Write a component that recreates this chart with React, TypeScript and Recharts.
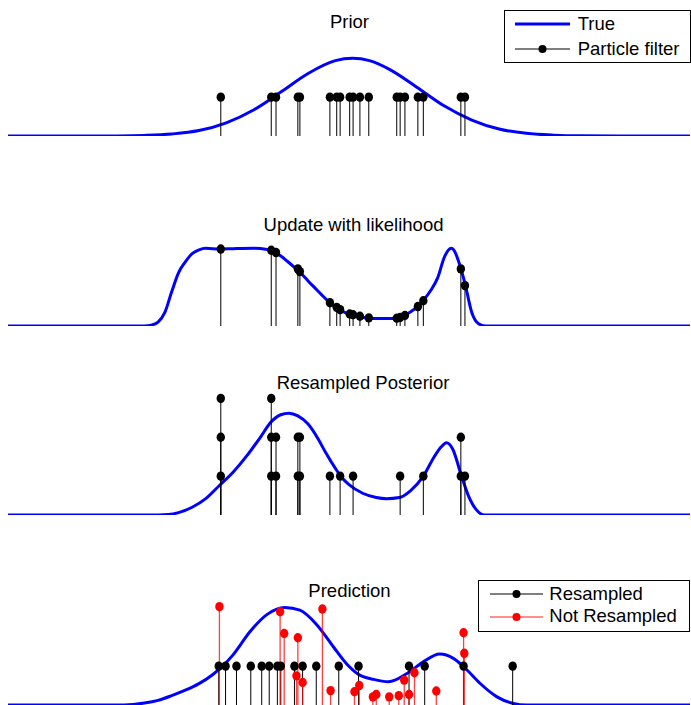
import React from 'react';
import { ComposedChart, Line, Scatter, ErrorBar, XAxis, YAxis, Legend } from 'recharts';

// x runs 0..100 across the plot, y is in "particle" units (one stacked dot = 1)

// Prior: true density
const priorCurveX = [0, 10, 16, 20, 24, 28, 32, 36, 40, 44, 48, 50.5, 53, 56, 60, 64, 68, 72, 76, 80, 84, 90, 100];
const priorCurveY = [0, 0, 0.003, 0.016, 0.052, 0.14, 0.34, 0.67, 1.13, 1.61, 1.94, 2.0, 1.94, 1.71, 1.25, 0.77, 0.41, 0.18, 0.068, 0.022, 0.005, 0, 0];

// particle positions drawn from the prior
const particleX = [31.2, 38.6, 39.3, 42.5, 42.8, 47.2, 48.2, 48.7, 50.1, 50.6, 51.6, 52.9, 57.0, 57.5, 58.2, 60.1, 60.9, 66.4, 67.0];

// Update with likelihood
const updateCurveX = [0, 10, 20, 21, 22, 23, 24, 25, 26, 27, 28, 29, 31, 33, 36, 38, 39, 40, 41, 42, 43, 44, 45, 46, 47, 48, 49, 50, 52, 54, 56, 57, 58, 59, 60, 61, 62, 63, 64, 65, 65.5, 66, 67, 68, 69, 70, 80, 100];
const updateCurveY = [0, 0, 0, 0.02, 0.1, 0.35, 0.88, 1.37, 1.65, 1.86, 1.96, 2.0, 1.98, 1.99, 2.0, 1.97, 1.91, 1.8, 1.66, 1.51, 1.35, 1.16, 0.98, 0.8, 0.63, 0.49, 0.38, 0.31, 0.22, 0.19, 0.19, 0.2, 0.26, 0.36, 0.49, 0.68, 0.92, 1.24, 1.78, 2.0, 1.92, 1.7, 1.1, 0.35, 0.06, 0, 0, 0];
const updateWeights = [1.98, 1.95, 1.89, 1.47, 1.4, 0.6, 0.48, 0.42, 0.31, 0.29, 0.25, 0.21, 0.2, 0.22, 0.27, 0.5, 0.65, 1.47, 1.04];

// Resampled posterior
const postCurveX = [0, 10, 22, 23.5, 25, 27, 29, 31, 33, 35, 37, 38.5, 40, 41.2, 42.5, 44, 45.5, 46.6, 48, 49, 50, 52, 54, 55.5, 57.4, 59, 60.9, 62.5, 63.5, 64.3, 65.2, 66.5, 67.5, 68.6, 69.9, 80, 100];
const postCurveY = [0, 0, 0, 0.01, 0.06, 0.2, 0.42, 0.76, 1.1, 1.52, 2.0, 2.38, 2.58, 2.62, 2.55, 2.34, 1.95, 1.6, 1.2, 0.95, 0.78, 0.56, 0.45, 0.42, 0.45, 0.62, 1.0, 1.5, 1.75, 1.86, 1.7, 1.0, 0.5, 0.15, 0, 0, 0];
const resampledX = [31.2, 38.6, 39.3, 42.5, 42.8, 47.2, 48.7, 50.6, 57.5, 60.9, 66.4, 67.0];
const resampledCount = [3, 3, 2, 2, 2, 1, 1, 1, 1, 1, 2, 1];

// Prediction
const predCurveX = [0, 10, 17, 20, 22, 24, 26, 28, 30, 31.1, 33, 35.5, 37.9, 40.6, 42.8, 45.3, 47.7, 49.7, 51.3, 53.6, 55.8, 58.5, 60.9, 63.3, 65.3, 67.3, 69.2, 71.7, 74.1, 76, 85, 100];
const predCurveY = [0, 0, 0, 0.05, 0.12, 0.24, 0.38, 0.55, 0.78, 0.94, 1.29, 1.89, 2.32, 2.51, 2.44, 2.06, 1.5, 1.05, 0.8, 0.66, 0.6, 0.81, 1.11, 1.31, 1.2, 0.9, 0.56, 0.21, 0.04, 0, 0, 0];
const predResampledX = [30.9, 31.9, 33.5, 35.6, 37.2, 38.3, 39.5, 40.0, 42.0, 43.2, 45.2, 48.5, 51.4, 58.8, 61.1, 66.8, 74.0];
const predOtherX = [31.0, 39.9, 40.5, 42.5, 46.1, 42.3, 43.2, 47.3, 50.8, 51.5, 53.5, 54.0, 55.9, 57.3, 58.1, 58.8, 59.6, 62.8, 66.8, 66.9];
const predOtherH = [2.53, 2.4, 1.84, 1.73, 2.47, 0.75, 0.58, 0.37, 0.34, 0.5, 0.21, 0.27, 0.21, 0.24, 0.64, 0.27, 0.83, 0.36, 1.86, 1.33];

const titles = [
  { text: 'Prior', cx: 349.5, top: 12.6 },
  { text: 'Update with likelihood', cx: 353.5, top: 216 },
  { text: 'Resampled Posterior', cx: 363, top: 373.6 },
  { text: 'Prediction', cx: 349.5, top: 581.6 },
];

const W = 691;
const H = 190;
const FONT = "'Liberation Sans', Arial, Helvetica, sans-serif";

const curve = (xs: number[], ys: number[]) => xs.map((x, i) => ({ x, y: ys[i] }));
const stems = (xs: number[], hs: number[]) => xs.map((x, i) => ({ x, y: hs[i], err: [hs[i], 0] }));
const stacked = (xs: number[], counts: number[]) =>
  xs.flatMap((x, i) => Array.from({ length: counts[i] }, (_, k) => ({ x, y: k + 1, err: [k + 1, 0] })));

const dot = (fill: string) => (p: any) =>
  p.cx == null ? <g /> : <ellipse cx={p.cx} cy={p.cy} rx={4.2} ry={4.7} fill={fill} />;

type Row = { label: string; stroke: string; sw: number; dot?: string };

const LegendBox = ({ rows, width, height, rowH, padTop, inset, sampleW, gap }: any) => (
  <div
    style={{
      width,
      height,
      boxSizing: 'border-box',
      border: '1px solid #000',
      background: '#fff',
      paddingTop: padTop,
      fontFamily: FONT,
    }}
  >
    {rows.map((r: Row) => (
      <div key={r.label} style={{ display: 'flex', alignItems: 'center', height: rowH }}>
        <svg width={sampleW} height={12} style={{ marginLeft: inset, display: 'block' }}>
          <line x1={0} y1={6} x2={sampleW} y2={6} stroke={r.stroke} strokeWidth={r.sw} />
          {r.dot && <circle cx={sampleW / 2} cy={6} r={4} fill={r.dot} />}
        </svg>
        <span style={{ marginLeft: gap, fontSize: 18.5, lineHeight: '18.5px', color: '#000', whiteSpace: 'nowrap' }}>
          {r.label}
        </span>
      </div>
    ))}
  </div>
);

const legendTop: Row[] = [
  { label: 'True', stroke: '#0000ff', sw: 3 },
  { label: 'Particle filter', stroke: '#000', sw: 1, dot: '#000' },
];
const legendBottom: Row[] = [
  { label: 'Resampled', stroke: '#000', sw: 1, dot: '#000' },
  { label: 'Not Resampled', stroke: '#ff6a6a', sw: 1.5, dot: '#ff0000' },
];

const Panel = ({ top, line, children }: any) => (
  <div style={{ position: 'absolute', left: 0, top, width: W, height: H }}>
    <ComposedChart width={W} height={H} margin={{ top: 0, right: 1, bottom: 54, left: 8 }}>
      <XAxis type="number" dataKey="x" domain={[0, 100]} hide />
      <YAxis type="number" domain={[0, 3.5]} hide allowDataOverflow />
      <Line
        data={line}
        dataKey="y"
        type="monotone"
        stroke="#0000ff"
        strokeWidth={3}
        dot={false}
        activeDot={false}
        isAnimationActive={false}
      />
      {children}
    </ComposedChart>
  </div>
);

const blackStems = (data: any[], name: string) => (
  <Scatter key={name} name={name} data={data} dataKey="y" shape={dot('#000')} isAnimationActive={false}>
    <ErrorBar dataKey="err" direction="y" width={0} stroke="#000" strokeWidth={1} isAnimationActive={false} />
  </Scatter>
);

export default function App() {
  return (
    <div
      style={{
        position: 'absolute',
        left: 0,
        top: 0,
        width: W,
        height: 705,
        overflow: 'hidden',
        background: '#fff',
        fontFamily: FONT,
      }}
    >
      <Panel top={0} line={curve(priorCurveX, priorCurveY)}>
        {[
          blackStems(stems(particleX, particleX.map(() => 1)), 'prior'),
          <Legend
            key="lg"
            layout="vertical"
            align="center"
            verticalAlign="middle"
            wrapperStyle={{ left: 504, top: 10 }}
            content={() => (
              <LegendBox rows={legendTop} width={187} height={53} rowH={25} padTop={0.8} inset={10} sampleW={55} gap={7.7} />
            )}
          />,
        ]}
      </Panel>
      <Panel top={190} line={curve(updateCurveX, updateCurveY)}>
        {[blackStems(stems(particleX, updateWeights), 'update')]}
      </Panel>
      <Panel top={379} line={curve(postCurveX, postCurveY)}>
        {[blackStems(stacked(resampledX, resampledCount), 'posterior')]}
      </Panel>
      <Panel top={569} line={curve(predCurveX, predCurveY)}>
        {[
          blackStems(stems(predResampledX, predResampledX.map(() => 1)), 'resampled'),
          <Scatter
            key="other"
            name="Not Resampled"
            data={stems(predOtherX, predOtherH)}
            dataKey="y"
            shape={dot('#ff0000')}
            isAnimationActive={false}
          >
            <ErrorBar
              dataKey="err"
              direction="y"
              width={0}
              stroke="#ff0000"
              strokeOpacity={0.75}
              strokeWidth={1.3}
              isAnimationActive={false}
            />
          </Scatter>,
          <Legend
            key="lg"
            layout="vertical"
            align="center"
            verticalAlign="middle"
            wrapperStyle={{ left: 478, top: 11 }}
            content={() => (
              <LegendBox rows={legendBottom} width={212} height={52} rowH={22.7} padTop={1.6} inset={11} sampleW={53} gap={6.3} />
            )}
          />,
        ]}
      </Panel>
      {titles.map((t) => (
        <div
          key={t.text}
          style={{
            position: 'absolute',
            left: t.cx - 150,
            width: 300,
            top: t.top,
            textAlign: 'center',
            fontSize: 18.5,
            lineHeight: '18.5px',
            color: '#000',
          }}
        >
          {t.text}
        </div>
      ))}
    </div>
  );
}
